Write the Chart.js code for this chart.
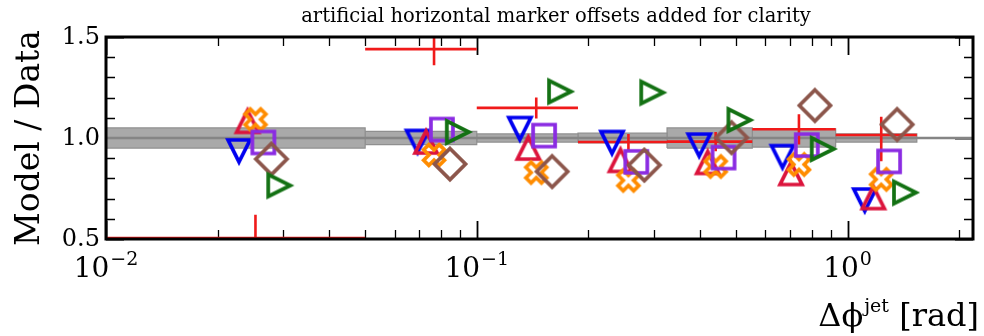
<!DOCTYPE html>
<html>
<head>
<meta charset="utf-8">
<script src="https://cdn.jsdelivr.net/npm/chart.js@4/dist/chart.umd.min.js"></script>
<style>
  html, body { margin: 0; padding: 0; background: #ffffff; }
  #wrap { width: 984px; height: 336px; position: relative; }
</style>
</head>
<body>
<div id="wrap"><canvas id="chart" width="984" height="336"></canvas></div>
<script>
// ---- Binning of the azimuthal separation (rad) ----
const binEdges   = [0.01, 0.05, 0.1, 0.1875, 0.326, 0.5536, 0.929, 1.538];
const binCenters = [0.0253, 0.0767, 0.1447, 0.2565, 0.4409, 0.7396, 1.233];

// ---- Data / Data reference with its uncertainty ----
const dataRatio  = [0.505, 1.44, 1.149, 0.980, 0.982, 1.043, 1.015];
const dataErrLo  = [0.115, 0.08, 0.052, 0.040, 0.048, 0.075, 0.130];
const dataErrHi  = [0.115, 0.08, 0.052, 0.040, 0.048, 0.075, 0.090];
const bandHalf   = [0.050, 0.033, 0.020, 0.024, 0.050, 0.045, 0.020];

// ---- Model / Data ratios, one array per model ----
const modelBlue   = [0.936, 0.983, 1.047, 0.978, 0.965, 0.908, 0.693];
const modelCrimson= [1.082, 0.980, 0.950, 0.889, 0.879, 0.824, 0.705];
const modelOrange = [1.092, 0.916, 0.829, 0.790, 0.859, 0.869, 0.795];
const modelPurple = [0.978, 1.042, 1.012, 0.882, 0.903, 0.965, 0.884];
const modelBrown  = [0.896, 0.871, 0.834, 0.866, 1.002, 1.161, 1.067];
const modelGreen  = [0.765, 1.030, 1.230, 1.225, 1.089, 0.946, 0.730];

// horizontal marker offsets (multiplicative, log axis)
const markerOffsets = [0.903, 0.952, 1.0, 1.05, 1.104, 1.159];

// ---- Axis ticks ----
const xMin = 0.01, xMax = 2.18;
const yMin = 0.5,  yMax = 1.5;
const xMajorTicks = [0.01, 0.1, 1];
const xTickExponents = ['\u22122', '\u22121', '0'];
const yTickValues = [0.5, 1.0, 1.5];
const yTickLabels = ['0.5', '1.0', '1.5'];

const titleText = 'artificial horizontal marker offsets added for clarity';
const yTitle = 'Model / Data';

const SERIF = '"DejaVu Serif", "Liberation Serif", serif';
const MARKER_SIZE = 22;
const MARKER_LW = 3.7;

function makeMarker(shape, color) {
  const S = 48;
  const c = document.createElement('canvas');
  c.width = S; c.height = S;
  const g = c.getContext('2d');
  g.translate(S / 2, S / 2);
  g.strokeStyle = color;
  g.lineWidth = MARKER_LW;
  g.lineJoin = 'miter';
  g.miterLimit = 10;
  const h = MARKER_SIZE / 2;
  g.beginPath();
  if (shape === 'triUp') {
    g.moveTo(0, -h); g.lineTo(h, h); g.lineTo(-h, h);
  } else if (shape === 'triDown') {
    g.moveTo(0, h); g.lineTo(h, -h); g.lineTo(-h, -h);
  } else if (shape === 'triRight') {
    g.moveTo(h, 0); g.lineTo(-h, h); g.lineTo(-h, -h);
  } else if (shape === 'square') {
    g.moveTo(-h, -h); g.lineTo(h, -h); g.lineTo(h, h); g.lineTo(-h, h);
  } else if (shape === 'diamond') {
    const d = h * Math.SQRT2;
    g.moveTo(0, -d); g.lineTo(d, 0); g.lineTo(0, d); g.lineTo(-d, 0);
  } else if (shape === 'xfill') {
    const pts = [[-1,-3],[1,-3],[1,-1],[3,-1],[3,1],[1,1],[1,3],[-1,3],[-1,1],[-3,1],[-3,-1],[-1,-1]];
    const k = MARKER_SIZE / 6;
    const a = Math.PI / 4, ca = Math.cos(a), sa = Math.sin(a);
    pts.forEach((p, i) => {
      const x = p[0] * k, y = p[1] * k;
      const rx = x * ca - y * sa, ry = x * sa + y * ca;
      if (i === 0) g.moveTo(rx, ry); else g.lineTo(rx, ry);
    });
  }
  g.closePath();
  g.stroke();
  return c;
}

const models = [
  { name: 'model-blue',    values: modelBlue,    shape: 'triDown',  color: '#0000f0' },
  { name: 'model-crimson', values: modelCrimson, shape: 'triUp',    color: '#dc143c' },
  { name: 'model-orange',  values: modelOrange,  shape: 'xfill',    color: '#ff8c00' },
  { name: 'model-purple',  values: modelPurple,  shape: 'square',   color: '#8a2be2' },
  { name: 'model-brown',   values: modelBrown,   shape: 'diamond',  color: '#8c564b' },
  { name: 'model-green',   values: modelGreen,   shape: 'triRight', color: '#137113' }
];

const datasets = [];

// uncertainty band of the data, one rectangle per bin
binEdges.slice(0, -1).forEach((lo, i) => {
  const hi = binEdges[i + 1];
  const u = bandHalf[i];
  datasets.push({
    label: 'band' + i,
    showLine: true,
    data: [{x: lo, y: 1 - u}, {x: lo, y: 1 + u}, {x: hi, y: 1 + u}, {x: hi, y: 1 - u}, {x: lo, y: 1 - u}],
    borderColor: '#8f8f8f',
    borderWidth: 1.2,
    backgroundColor: '#a9a9a9',
    fill: 'shape',
    pointRadius: 0,
    tension: 0,
    order: 20
  });
});

// unity reference line
datasets.push({
  label: 'unity',
  showLine: true,
  data: [{x: xMin, y: 1}, {x: xMax, y: 1}],
  borderColor: '#858585',
  borderWidth: 2.6,
  pointRadius: 0,
  order: 15
});

// data points drawn as error crosses (bin width and uncertainty)
const dataCross = [];
binCenters.forEach((c, i) => {
  dataCross.push({x: binEdges[i], y: dataRatio[i]});
  dataCross.push({x: binEdges[i + 1], y: dataRatio[i]});
  dataCross.push({x: c, y: null});
  dataCross.push({x: c, y: dataRatio[i] - dataErrLo[i]});
  dataCross.push({x: c, y: dataRatio[i] + dataErrHi[i]});
  dataCross.push({x: c, y: null});
});
datasets.push({
  label: 'data',
  showLine: true,
  spanGaps: false,
  data: dataCross,
  borderColor: '#f01a1a',
  borderWidth: 2.6,
  pointRadius: 0,
  order: 10
});

// model markers, shifted horizontally for readability
models.forEach((m, k) => {
  const img = makeMarker(m.shape, m.color);
  datasets.push({
    label: m.name,
    data: binCenters.map((c, i) => ({x: c * markerOffsets[k], y: m.values[i]})),
    pointStyle: img,
    pointRadius: 10,
    showLine: false,
    order: 6 - k
  });
});

function drawPower(ctx, x, baseY, exp) {
  const baseFont = '28px ' + SERIF, supFont = '19px ' + SERIF;
  ctx.font = baseFont;
  const wb = ctx.measureText('10').width;
  ctx.font = supFont;
  const ws = ctx.measureText(exp).width;
  const x0 = x - (wb + ws + 1) / 2;
  ctx.textAlign = 'left';
  ctx.textBaseline = 'alphabetic';
  ctx.font = baseFont;
  ctx.fillText('10', x0, baseY);
  ctx.font = supFont;
  ctx.fillText(exp, x0 + wb + 1, baseY - 12);
}

const axisDecor = {
  id: 'axisDecor',
  beforeDatasetsDraw(chart) {
    const {ctx, chartArea: a, scales: {x, y}} = chart;
    ctx.save();
    ctx.strokeStyle = '#000';
    // x ticks: minor 2..9 per decade, major at decades; inward on top and bottom
    for (let d = -2; d <= 0; d++) {
      for (let m = 1; m <= 9; m++) {
        const v = m * Math.pow(10, d);
        if (v < xMin - 1e-9 || v > xMax) continue;
        const px = Math.round(x.getPixelForValue(v)) + 0.5;
        const len = m === 1 ? 18 : 9;
        ctx.lineWidth = m === 1 ? 1.8 : 1.3;
        ctx.beginPath();
        ctx.moveTo(px, a.bottom); ctx.lineTo(px, a.bottom - len);
        ctx.moveTo(px, a.top); ctx.lineTo(px, a.top + len);
        ctx.stroke();
      }
    }
    // y ticks every 0.1, inward on left and right
    for (let i = 5; i <= 15; i++) {
      const v = i / 10;
      const py = Math.round(y.getPixelForValue(v)) + 0.5;
      const major = i % 5 === 0;
      const len = major ? 18 : 9;
      ctx.lineWidth = major ? 1.8 : 1.3;
      ctx.beginPath();
      ctx.moveTo(a.left, py); ctx.lineTo(a.left + len, py);
      ctx.moveTo(a.right, py); ctx.lineTo(a.right - len, py);
      ctx.stroke();
    }
    ctx.restore();
  },
  afterDraw(chart) {
    const {ctx, chartArea: a, scales: {x, y}} = chart;
    ctx.save();
    // frame
    ctx.strokeStyle = '#000';
    ctx.lineWidth = 3;
    ctx.strokeRect(a.left, a.top, a.right - a.left, a.bottom - a.top);

    ctx.fillStyle = '#000';
    // y tick labels
    ctx.font = '24px ' + SERIF;
    ctx.textAlign = 'right';
    ctx.textBaseline = 'middle';
    yTickValues.forEach((v, i) => {
      ctx.fillText(yTickLabels[i], a.left - 6, y.getPixelForValue(v) + 1);
    });
    // x tick labels as powers of ten
    xMajorTicks.forEach((v, i) => {
      drawPower(ctx, x.getPixelForValue(v), 277, xTickExponents[i]);
    });

    // y axis title, centred on the panel
    ctx.save();
    ctx.translate(30, (a.top + a.bottom) / 2);
    ctx.rotate(-Math.PI / 2);
    ctx.font = '33px ' + SERIF;
    ctx.textAlign = 'center';
    ctx.textBaseline = 'middle';
    ctx.fillText(yTitle, 0, 0);
    ctx.restore();

    // x axis title: Δφ^jet [rad], right aligned
    const big = '32px ' + SERIF, sup = '19px ' + SERIF;
    ctx.textBaseline = 'alphabetic';
    ctx.textAlign = 'left';
    ctx.font = big;
    const w1 = ctx.measureText('\u0394\u03d5').width;
    const w3 = ctx.measureText(' [rad]').width;
    ctx.font = sup;
    const w2 = ctx.measureText('jet').width;
    const base = 326;
    let xs = 979 - (w1 + w2 + w3 + 1);
    ctx.font = big;
    ctx.fillText('\u0394\u03d5', xs, base);
    ctx.font = sup;
    ctx.fillText('jet', xs + w1 + 1, base - 14);
    ctx.font = big;
    ctx.fillText(' [rad]', xs + w1 + w2 + 1, base);

    // title line above the panel
    ctx.font = '19.5px ' + SERIF;
    ctx.textAlign = 'center';
    ctx.textBaseline = 'middle';
    ctx.fillText(titleText, 556, 17);
    ctx.restore();
  }
};

new Chart(document.getElementById('chart'), {
  type: 'scatter',
  data: { datasets },
  options: {
    responsive: false,
    animation: false,
    layout: { padding: { left: 106, right: 4, top: 37, bottom: 97 } },
    plugins: { legend: { display: false }, tooltip: { enabled: false }, title: { display: false } },
    elements: { line: { tension: 0 } },
    scales: {
      x: { type: 'logarithmic', min: xMin, max: xMax, display: false },
      y: { type: 'linear', min: yMin, max: yMax, display: false }
    }
  },
  plugins: [axisDecor]
});
</script>
</body>
</html>
